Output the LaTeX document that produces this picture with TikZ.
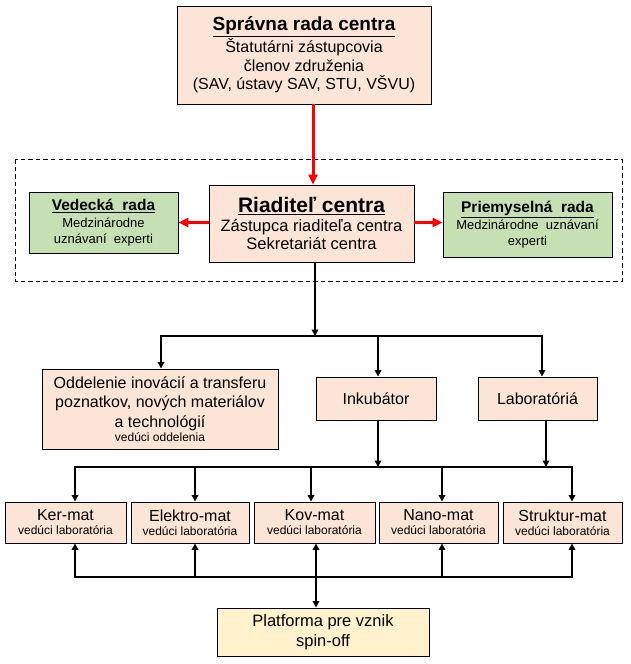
\documentclass[tikz,border=0pt]{standalone}
\usepackage{fontspec}
\setmainfont{Liberation Sans}
\usetikzlibrary{arrows.meta,calc}
\definecolor{peach}{HTML}{FCE4D6}
\definecolor{leaf}{HTML}{C6E0B4}
\definecolor{cream}{HTML}{FFF2CC}
\newcommand{\labsub}{\\[-3pt]{\fontsize{12}{13}\selectfont vedúci laboratória}}
\begin{document}
\begin{tikzpicture}[x=1pt,y=-1pt,
 box/.style={draw=black, line width=0.9pt, inner sep=0pt, align=center},
 pbox/.style={box, fill=peach},
 gbox/.style={box, fill=leaf},
 ybox/.style={box, fill=cream},
 conn/.style={line width=1.8pt, line join=miter},
 tip/.tip={Triangle[length=6.5pt,width=6.5pt]},
 arr/.style={conn, -tip},
 darr/.style={conn, tip-tip},
 redarr/.style={draw=red, line width=3pt, -{Triangle[length=10pt,width=9pt]}},
 body/.style={font=\fontsize{16}{18.5}\selectfont},
 small/.style={font=\fontsize{13}{15.5}\selectfont},
 ]
\useasboundingbox (0,0) rectangle (631,664);
\fill[white] (0,0) rectangle (631,664);
% frame
\draw[line width=0.9pt, dash pattern=on 4.5pt off 3pt] (15,159) rectangle (622,281);
% top
\node[pbox, body, minimum width=254pt, minimum height=98pt] (top) at (304,55)
 {{\fontsize{19}{22}\selectfont\bfseries\underline{Správna rada centra}}\\[1pt]
  Štatutárni zástupcovia\\ členov združenia\\ (SAV, ústavy SAV, STU, VŠVU)};
\node[pbox, font=\fontsize{16.5}{18}\selectfont, minimum width=205pt, minimum height=77pt] (dir) at (311.5,223.5)
 {{\fontsize{21}{22}\selectfont\bfseries\underline{Riaditeľ centra}}\\[1pt]
  Zástupca riaditeľa centra\\ Sekretariát centra};
\node[gbox, small, minimum width=149pt, minimum height=61pt] (ved) at (103.5,222.5)
 {{\fontsize{15.5}{17}\selectfont\bfseries\underline{Vedecká\ \ rada}}\\[1.5pt]
  Medzinárodne\\ uznávaní\ \ experti};
\node[gbox, small, minimum width=169pt, minimum height=65pt] (prie) at (527.5,224.5)
 {{\fontsize{15.5}{17}\selectfont\bfseries\underline{Priemyselná\ \ rada}}\\[1.5pt]
  Medzinárodne\ \ uznávaní\\ experti};
% middle row
\node[pbox, font=\fontsize{16}{19.5}\selectfont, minimum width=236pt, minimum height=80pt] (odd) at (160,409)
 {Oddelenie inovácií a transferu\\ poznatkov, nových materiálov\\ a technológií\\[-5pt]
  {\fontsize{12}{14}\selectfont vedúci oddelenia}};
\node[pbox, font=\fontsize{16}{19}\selectfont, minimum width=120pt, minimum height=43pt] (ink) at (376,398.5) {Inkubátor};
\node[pbox, font=\fontsize{16}{19}\selectfont, minimum width=119pt, minimum height=43pt] (lab) at (537.5,398.5) {Laboratóriá};
% labs
\tikzset{lab/.style={pbox, font=\fontsize{16}{17}\selectfont, minimum height=41pt}}
\node[lab, minimum width=121pt] (ker) at (65.5,522.5) {Ker-mat\labsub};
\node[lab, minimum width=118pt] (ele) at (190,522.5) {Elektro-mat\labsub};
\node[lab, minimum width=121pt] (kov) at (314.5,522.5) {Kov-mat\labsub};
\node[lab, minimum width=119pt] (nano) at (438.5,522.5) {Nano-mat\labsub};
\node[lab, minimum width=119pt] (str) at (562.5,522.5) {Struktur-mat\labsub};
\node[ybox, font=\fontsize{16.5}{20}\selectfont, minimum width=212pt, minimum height=48pt] (plat) at (323,632)
 {Platforma pre vznik\\ spin-off};
% red arrows
\coordinate (rx) at (313,0);
\draw[redarr] (top.south -| rx) -- (dir.north -| rx);
\draw[redarr] (dir.west |- ved.east) -- (ved.east);
\draw[redarr] (dir.east |- ved.east) -- (prie.west |- ved.east);
% distribution level 1
\coordinate (bx) at (315,0);
\coordinate (h1) at (0,336);
\coordinate (ox) at (161,0);
\coordinate (ix) at (378,0);
\coordinate (lx) at (542,0);
\coordinate (lx2) at (546,0);
\draw[arr] (dir.south -| bx) -- (h1 -| bx);
\draw[darr] (odd.north -| ox) -- (h1 -| ox) -- (h1 -| lx) -- (lab.north -| lx);
\draw[arr] (h1 -| ix) -- (ink.north -| ix);
% distribution level 2
\coordinate (h2) at (0,467);
\coordinate (h3) at (0,577);
\coordinate (c1) at (75,0);
\coordinate (c2) at (195,0);
\coordinate (c3) at (311,0);
\coordinate (c3b) at (316,0);
\coordinate (c4) at (442,0);
\coordinate (c5) at (572,0);
\draw[arr] (ink.south -| ix) -- (h2 -| ix);
\draw[arr] (lab.south -| lx2) -- (h2 -| lx2);
\draw[darr] (ker.north -| c1) -- (h2 -| c1) -- (h2 -| c5) -- (str.north -| c5);
\foreach \c/\n in {c2/ele, c3/kov, c4/nano}
  \draw[arr] (h2 -| \c) -- (\n.north -| \c);
\draw[darr] (ker.south -| c1) -- (h3 -| c1) -- (h3 -| c5) -- (str.south -| c5);
\foreach \c/\n in {c2/ele, c4/nano}
  \draw[arr] (h3 -| \c) -- (\n.south -| \c);
\draw[darr] (kov.south -| c3b) -- (plat.north -| c3b);
\end{tikzpicture}
\end{document}
